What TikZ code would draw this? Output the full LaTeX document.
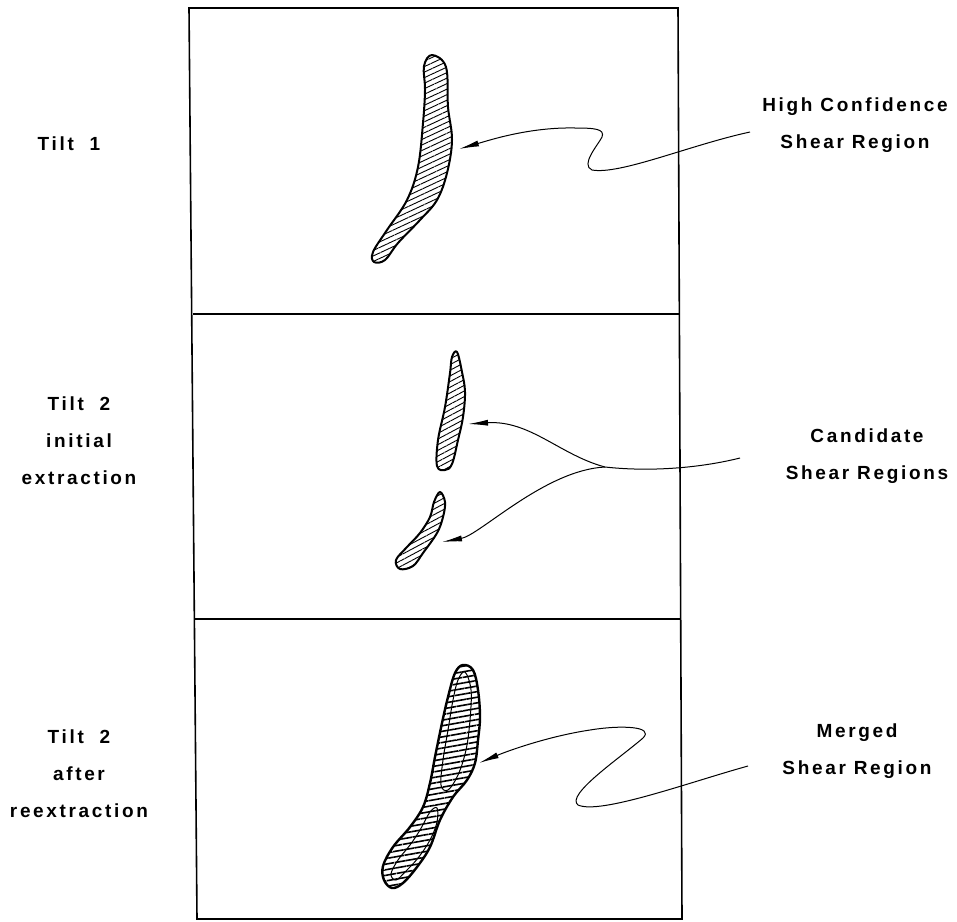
\documentclass[tikz,border=0pt]{standalone}
\usepackage{fontspec}
\usetikzlibrary{arrows.meta,patterns.meta}
\newfontfamily\lblfont[LetterSpace=14,UprightFont=* Bold]{Liberation Sans}

\begin{document}
\begin{tikzpicture}[x=1pt,y=-1pt,>={Latex[length=20pt,width=6pt]},
  lbl/.style={font=\lblfont\fontsize{19}{37}\selectfont,align=center,inner sep=0pt},
  frame/.style={line width=1.6pt},
  blob/.style={line width=2pt,line join=round},
  conn/.style={->,line width=1pt}]
\useasboundingbox (0,0) rectangle (957,921);
\draw[frame] (189,8) -- (678,8) -- (682,919) -- (197,919) -- cycle;
\draw[frame] (193,314) -- (680,314);
\draw[frame] (195,619) -- (681,619);

\node[lbl] (tiltA) at (69,144) {Tilt\ \ 1};
\node[lbl] (tiltB) at (79,441) {Tilt\ \ 2\\initial\\extraction};
\node[lbl] (tiltC) at (79,774) {Tilt\ \ 2\\after\\reextraction};
\node[lbl] (hcLbl) at (855,125) {High Confidence\\Shear Region};
\node[lbl] (cdLbl) at (867,456) {Candidate\\Shear Regions};
\node[lbl] (mgLbl) at (857,751) {Merged\\Shear Region};

\draw[blob,pattern={Lines[angle=25,distance=5pt,line width=0.9pt]}] plot[smooth cycle,tension=0.6] coordinates
  {(432,55) (446,67) (448,107) (452,140) (447,173) (437,200) (420,220) (398,243) (385,260) (374,262) (373,252) (387,230) (407,200) (418,167) (423,123) (425,90) (424,66)};
\draw[blob,pattern={Lines[angle=28,distance=5pt,line width=0.9pt]}] plot[smooth cycle,tension=0.6] coordinates
  {(457,352) (462,372) (465,392) (463,417) (458,440) (452,464) (445,470) (437,466) (438,440) (445,407) (450,373) (452,357)};
\draw[blob,pattern={Lines[angle=28,distance=5pt,line width=0.9pt]}] plot[smooth cycle,tension=0.6] coordinates
  {(440,492) (445,502) (443,517) (437,533) (423,553) (413,566) (400,569) (396,560) (407,547) (420,533) (430,517) (434,502)};
\draw[blob,line width=2.4pt,pattern={Lines[angle=10,distance=5.5pt,line width=1.6pt]}] plot[smooth cycle,tension=0.6] coordinates
  {(463,665) (473,670) (478,690) (480,717) (478,740) (475,763) (467,780) (453,797) (440,820) (430,847) (417,867) (403,883) (392,888) (384,880) (383,866) (393,847) (410,827) (423,807) (430,783) (435,757) (442,723) (448,697) (455,673)};
\draw[line width=1pt] plot[smooth cycle,tension=0.6] coordinates
  {(465,672) (471,690) (470,720) (466,750) (458,775) (448,790) (441,785) (443,760) (448,730) (453,700) (458,680)};
\draw[line width=1pt] plot[smooth cycle,tension=0.6] coordinates
  {(437,808) (437,822) (430,840) (418,858) (405,872) (396,880) (391,874) (398,860) (410,845) (420,830) (430,812)};

\coordinate (hcTail) at (750,132);
\coordinate (hcTip) at (459,149);
\coordinate (cdTail) at (740,458);
\coordinate (cdJoin) at (605,467);
\coordinate (cdTipA) at (468,424);
\coordinate (cdTipB) at (442,542);
\coordinate (mgTail) at (748,766);
\coordinate (mgTip) at (479,763);

\draw[conn] (hcTail) .. controls (690,145) and (620,175) .. (592,170)
  .. controls (580,165) and (598,145) .. (602,137)
  .. controls (605,129) and (595,128) .. (575,128)
  .. controls (530,127) and (490,140) .. (hcTip);
\draw[line width=1pt] (cdTail) .. controls (700,468) and (650,472) .. (cdJoin);
\draw[conn] (cdJoin) .. controls (560,455) and (530,420) .. (cdTipA);
\draw[conn] (cdJoin) .. controls (545,470) and (480,535) .. (cdTipB);
\draw[conn] (mgTail) .. controls (690,782) and (600,815) .. (578,805)
  .. controls (565,795) and (620,758) .. (643,738)
  .. controls (655,726) and (620,725) .. (590,730)
  .. controls (550,736) and (510,750) .. (mgTip);
\end{tikzpicture}
\end{document}
